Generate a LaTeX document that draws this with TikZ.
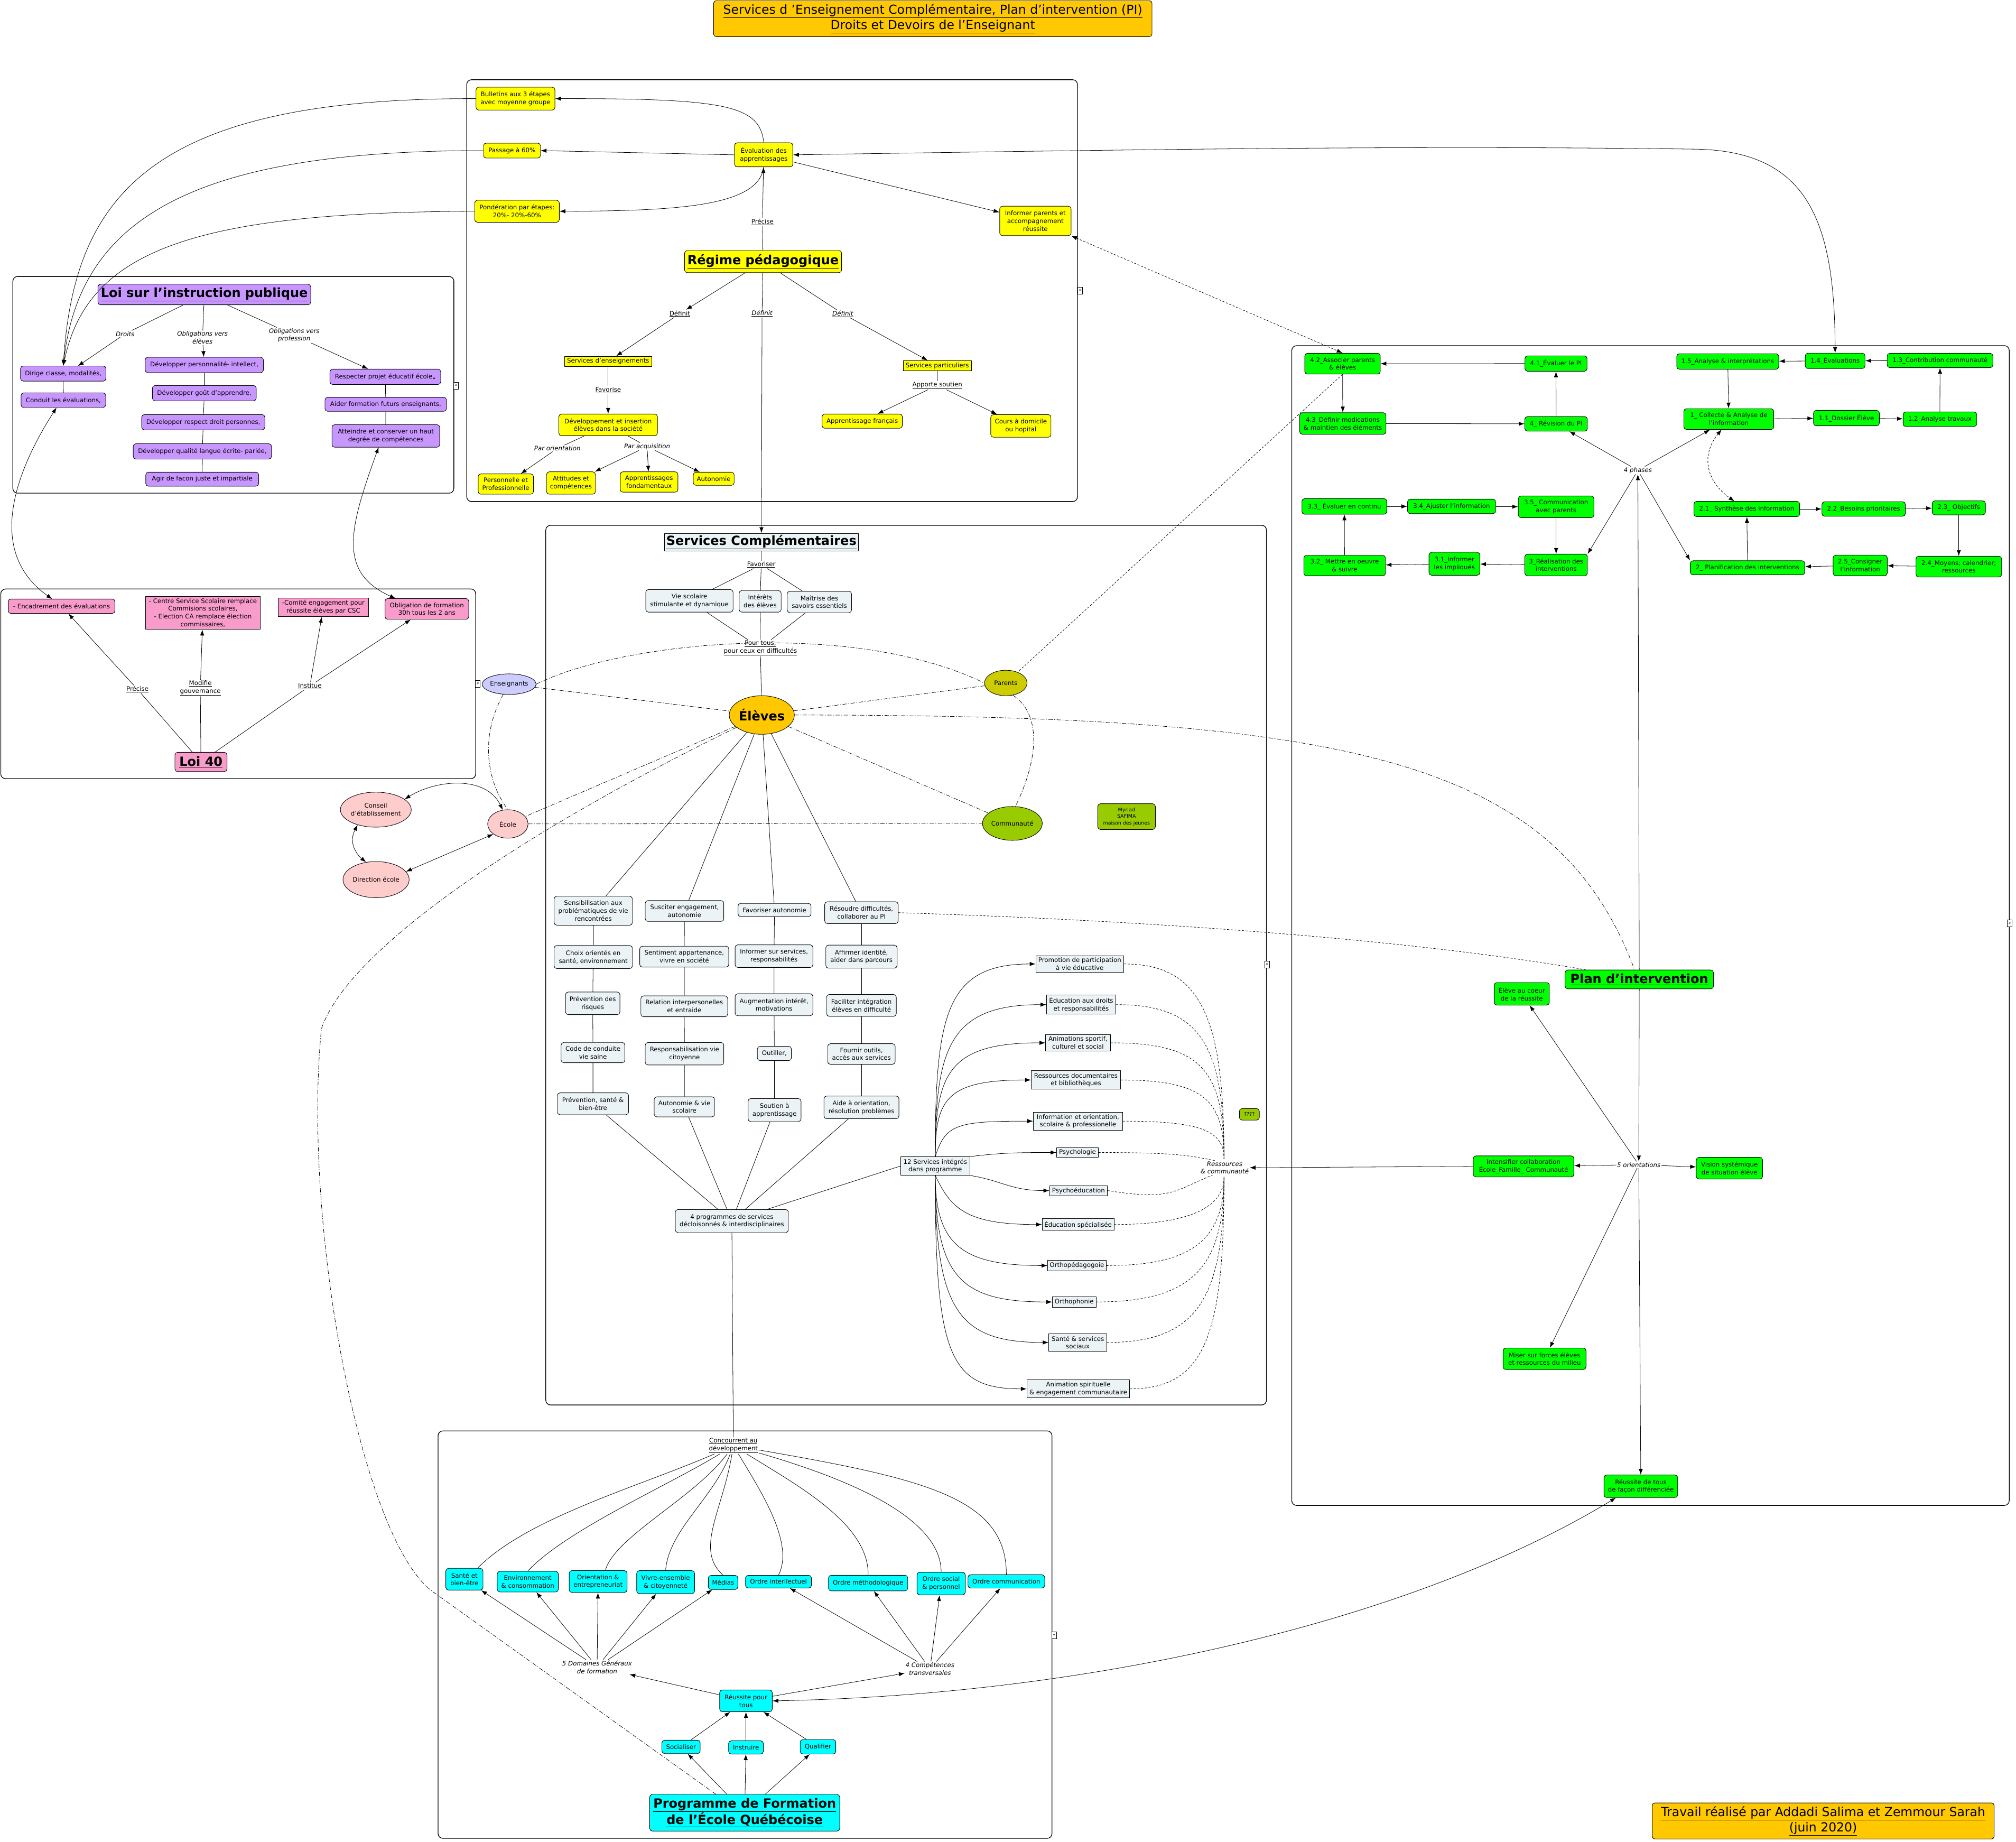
\documentclass[tikz,border=0pt]{standalone}
\usepackage{fontspec}
\setmainfont{DejaVu Sans}
\usetikzlibrary{arrows.meta,shapes.geometric}
\definecolor{cyel}{HTML}{FFFF00}
\definecolor{corg}{HTML}{FFC800}
\definecolor{cpur}{HTML}{C896FF}
\definecolor{cpnk}{HTML}{F99BCB}
\definecolor{clite}{HTML}{EBF3F6}
\definecolor{cgrn}{HTML}{00FF00}
\definecolor{ccya}{HTML}{00FFFF}
\definecolor{cpar}{HTML}{CCCC00}
\definecolor{ccom}{HTML}{99CC00}
\definecolor{cens}{HTML}{CCCCFF}
\definecolor{cecl}{HTML}{FFCCCC}
\newcommand{\fsm}{\fontsize{11.8}{14.8}\selectfont}
\newcommand{\fhd}{\fontsize{24}{29}\selectfont\bfseries}
\newcommand{\ftt}{\fontsize{23.5}{28.5}\selectfont}
\newcommand{\fxs}{\fontsize{9.5}{12.5}\selectfont}
\newcommand{\bx}[7]{\node[#1,minimum width=#5*2.433pt,minimum height=#6*2.433pt] (#2) at (#3,#4) {#7};}
\tikzset{
 base/.style={draw, line width=0.9pt, rounded corners=5pt, align=center, inner sep=2pt, font=\fsm},
 yel/.style={base, fill=cyel},
 yelr/.style={base, sharp corners, fill=cyel},
 pur/.style={base, fill=cpur},
 pnk/.style={base, fill=cpnk},
 pnkr/.style={base, sharp corners, fill=cpnk},
 lite/.style={base, fill=clite},
 liter/.style={base, sharp corners, fill=clite},
 grn/.style={base, fill=cgrn},
 cya/.style={base, fill=ccya},
 ell/.style={draw, line width=0.9pt, ellipse, align=center, inner sep=0pt, font=\fsm},
 lbl/.style={align=center, inner sep=1.5pt, font=\fsm},
 lbli/.style={lbl, font=\fsm\itshape},
 cont/.style={draw, line width=1.3pt, rounded corners=9pt},
 ln/.style={line width=0.8pt},
 arr/.style={ln, -{Latex[length=11pt,width=8pt]}},
 darr/.style={ln, {Latex[length=11pt,width=8pt]}-{Latex[length=11pt,width=8pt]}},
 dd/.style={ln, dash pattern=on 8pt off 3pt on 1.5pt off 3pt},
 dsh/.style={ln, dash pattern=on 4pt off 3pt},
 ico/.style={draw, fill=white, line width=0.6pt, inner sep=0.5pt, font=\fontsize{8}{8}\selectfont, minimum width=9pt, minimum height=13pt}
}
\begin{document}
\begin{tikzpicture}[x=2.433pt,y=-2.433pt]
\fill[white] (0,0) rectangle (1568,1432);
\useasboundingbox (0,0) rectangle (1568,1432);
% containers
\draw[cont] (363,62) rectangle (838,390);
\draw[cont] (10,215) rectangle (353,383.5);
\draw[cont] (0.6,458) rectangle (370,605.5);
\draw[cont] (424.5,408.5) rectangle (985,1092.5);
\draw[cont] (1004.7,268.8) rectangle (1562.7,1170.6);
\draw[cont] (340.7,1112.7) rectangle (818.2,1429.5);
\node[ico] (i1) at (840,226) {«};
\node[ico] (i2) at (354.6,299.8) {«};
\node[ico] (i3) at (371.6,531.6) {«};
\node[ico] (i4) at (985.3,750) {«};
\node[ico] (i5) at (1563,718) {«};
\node[ico] (i6) at (820,1271.4) {«};
% title and footer
\node[base, fill=corg, font=\ftt, minimum width=341*2.433pt, minimum height=28*2.433pt] (title) at (725.5,14.5) {\underline{Services d 'Enseignement Complémentaire, Plan d'intervention (PI)}\\\underline{Droits et Devoirs de l'Enseignant}};
\node[base, fill=corg, font=\ftt, minimum width=266*2.433pt, minimum height=28*2.433pt] (footer) at (1418,1416) {\underline{Travail réalisé par Addadi Salima et Zemmour Sarah}\\\underline{(juin 2020)}};
% Regime
\bx{yel}{bull}{400.9}{76.7}{61.4}{17.8}{Bulletins aux 3 étapes\\avec moyenne groupe}
\bx{yel}{pass}{398.2}{117.1}{44.3}{11.6}{Passage à 60\%}
\bx{yel}{pond}{402.1}{164.3}{65.8}{17.1}{Pondération par étapes:\\20\%- 20\%-60\%}
\bx{yel}{eval}{594}{120.4}{45.3}{18.7}{Évaluation des\\apprentissages}
\bx{yel}{inform}{805.3}{171.8}{55.5}{22.9}{Informer parents et\\accompagnement\\réussite}
\bx{yel,font=\fhd}{regime}{593.5}{203.4}{122.2}{17.2}{\underline{Régime pédagogique}}
\bx{yelr}{sens}{473}{281}{68}{8}{Services d'enseignements}
\bx{yelr}{spart}{729}{284.4}{52.9}{8}{Services particuliers}
\bx{yel}{dev}{473}{330.4}{76.7}{16.8}{Développement et insertion\\élèves dans la société}
\bx{yel}{appf}{670.6}{327.5}{62.5}{11}{Apprentissage français}
\bx{yel}{cours}{794}{331.2}{46.8}{17.6}{Cours à domicile\\ou hopital}
\bx{yel}{perso}{393.4}{376.4}{43}{15.8}{Personnelle et\\Professionnelle}
\bx{yel}{attit}{444.1}{375.6}{38}{17.4}{Attitudes et\\compétences}
\bx{yel}{apprf}{504.8}{374.8}{44.9}{15.8}{Apprentissages\\fondamentaux}
\bx{yel}{auton}{555.1}{372.3}{31.8}{10.2}{Autonomie}
\node[lbl] (precise) at (593,172.6) {\underline{Précise}};
\node[lbl] (def1) at (528.7,243.9) {\underline{Définit}};
\node[lbli] (def2) at (592.7,243.8) {\underline{Définit}};
\node[lbli] (def3) at (655.5,244) {\underline{Définit}};
\node[lbl] (favorise) at (473,303.5) {\underline{Favorise}};
\node[lbl] (apporte) at (729,299.6) {\underline{Apporte soutien}};
\node[lbli] (parori) at (433.5,348.7) {Par orientation};
\node[lbli] (paracq) at (503.3,347.3) {Par acquisition};
% Loi instruction publique
\bx{pur,font=\fhd}{loiip}{158.9}{229}{165.5}{16}{\underline{Loi sur l'instruction publique}}
\bx{pur}{dirige}{49.2}{290.5}{66.4}{11.8}{Dirige classe, modalités,}
\bx{pur}{conduit}{49.3}{311.2}{65.8}{11.4}{Conduit les évaluations,}
\bx{pur}{devpers}{158.9}{283.8}{92}{12}{Développer personnalité- intellect,}
\bx{pur}{devgout}{158.9}{305.7}{80.8}{11.9}{Développer goût d'apprendre,}
\bx{pur}{devresp}{158.1}{328.3}{95.8}{11.9}{Développer respect droit personnes,}
\bx{pur}{devqual}{157.4}{351}{107.6}{11.9}{Développer qualité langue écrite- parlée,}
\bx{pur}{agir}{157.3}{372.6}{87.8}{10.9}{Agir de facon juste et impartiale}
\bx{pur}{respect}{299.7}{293}{86.2}{11.9}{Respecter projet éducatif école,,}
\bx{pur}{aider}{300}{314.4}{94.5}{10.9}{Aider formation futurs enseignants,}
\bx{pur}{atteindre}{300.1}{339}{83.8}{17.5}{Atteindre et conserver un haut\\degrée de compétences}
\node[lbli] (droits) at (97.3,259.6) {Droits};
\node[lbli] (oblel) at (157.5,262.6) {Obligations vers\\élèves};
\node[lbli] (oblprof) at (228.8,260.7) {Obligations vers\\profession};
% Loi 40
\bx{pnk}{encad}{47.9}{471.4}{83}{11.2}{- Encadrement des évaluations}
\bx{pnkr}{centre}{157.8}{476.6}{89}{25.7}{- Centre Service Scolaire remplace\\Commisions scolaires,\\- Election CA remplace élection\\commissaires,}
\bx{pnkr}{comite}{251.5}{472.2}{70.3}{14.6}{-Comité engagement pour\\réussite élèves par CSC}
\bx{pnk}{oblig}{332}{473.5}{65.1}{16.2}{Obligation de formation\\30h tous les 2 ans}
\bx{pnk,font=\fhd}{loi40}{156.3}{592.5}{40.5}{15}{\underline{Loi 40}}
\node[lbl] (precise2) at (106.9,536) {\underline{Précise}};
\node[lbl] (modifie) at (155.8,535) {\underline{Modifie}\\\underline{gouvernance}};
\node[lbl] (institue) at (241,533.4) {\underline{Institue}};
% Services complementaires
\bx{liter,font=\fhd}{servc}{592.2}{421.6}{150.5}{13.8}{\underline{Services Complémentaires}}
\bx{lite}{viesc}{536.2}{467.2}{67.9}{17.6}{Vie scolaire\\stimulante et dynamique}
\bx{lite}{inter}{591.2}{467.6}{32.7}{16.8}{Intérêts\\des élèves}
\bx{lite}{maitr}{637.3}{468.1}{50}{16.7}{Maîtrise des\\savoirs essentiels}
\node[lbl] (favoriser) at (592.1,439.1) {\underline{Favoriser}};
\node[lbl] (pourtous) at (591.4,503.9) {\underline{Pour tous,}\\\underline{pour ceux en difficultés}};
\node[ell, fill=corg, font=\fhd, minimum width=48.4*2.433pt, minimum height=30*2.433pt] (eleves) at (592.5,556) {Élèves};
\node[ell, fill=cpar, minimum width=33.1*2.433pt, minimum height=19.8*2.433pt] (parents) at (782.3,531.1) {Parents};
\node[ell, fill=ccom, minimum width=44.1*2.433pt, minimum height=26.3*2.433pt] (commun) at (787.4,640.3) {Communauté};
\node[ell, fill=cens, minimum width=36*2.433pt, minimum height=16*2.433pt] (ens) at (396,532) {Enseignants};
\node[ell, fill=cecl, minimum width=31.4*2.433pt, minimum height=22.1*2.433pt] (ecole) at (395,640.7) {École};
\node[ell, fill=cecl, minimum width=49.9*2.433pt, minimum height=27.2*2.433pt] (conseil) at (292.3,629.6) {Conseil\\d'établissement};
\node[ell, fill=cecl, minimum width=49*2.433pt, minimum height=28.1*2.433pt] (direction) at (292.5,684) {Direction école};
\node[base, fill=ccom, font=\fxs, minimum width=44.8*2.433pt, minimum height=20*2.433pt] (myriad) at (876.2,635) {Myriad\\SAFIMA\\maison des jeunes};
\node[base, fill=ccom, font=\fxs, minimum width=15.5*2.433pt, minimum height=9*2.433pt] (qqq) at (971.7,866.5) {????};
\bx{lite}{c1a}{461.4}{708.2}{60.9}{22.5}{Sensibilisation aux\\problématiques de vie\\rencontrées}
\bx{lite}{c1b}{461.4}{744.2}{60.9}{17.9}{Choix orientés en\\santé, environnement}
\bx{lite}{c1c}{461}{780.2}{42.3}{17.6}{Prévention des\\risques}
\bx{lite}{c1d}{461.2}{818.5}{49.6}{15.8}{Code de conduite\\vie saine}
\bx{lite}{c1e}{461.2}{858.3}{55.4}{17}{Prévention, santé \&\\bien-être}
\bx{lite}{c2a}{532.4}{708.4}{61.1}{16.2}{Susciter engagement,\\autonomie}
\bx{lite}{c2b}{532.2}{743.9}{69.3}{16.2}{Sentiment appartenance,\\vivre en société}
\bx{lite}{c2c}{532.2}{782.5}{67.5}{16.2}{Relation interpersonelles\\et entraide}
\bx{lite}{c2d}{532.4}{819.4}{61.1}{17.5}{Responsabilisation vie\\citoyenne}
\bx{lite}{c2e}{532.3}{860.7}{47}{15.6}{Autonomie \& vie\\scolaire}
\bx{lite}{c3a}{602.4}{707.6}{56.8}{10.3}{Favoriser autonomie}
\bx{lite}{c3b}{602}{743.5}{60.5}{17.6}{Informer sur services,\\responsabilités}
\bx{lite}{c3c}{602}{781.3}{60.5}{17.1}{Augmentation intérêt,\\motivations}
\bx{lite}{c3d}{602.3}{819.2}{26.5}{11.1}{Outiller,}
\bx{lite}{c3e}{602.4}{863.2}{41.2}{17.9}{Soutien à\\apprentissage}
\bx{lite}{c4a}{670}{709.7}{57.1}{17}{Résoudre difficultés,\\collaborer au PI}
\bx{lite}{c4b}{670}{743.9}{55.4}{17.9}{Affirmer identité,\\aider dans parcours}
\bx{lite}{c4c}{670}{781.8}{54.2}{17}{Faciliter intégration\\élèves en difficulté}
\bx{lite}{c4d}{670}{819.6}{52.5}{16}{Fournir outils,\\accès aux services}
\bx{lite}{c4e}{670}{861.1}{58.3}{17.6}{Aide à orientation,\\résolution problèmes}
\bx{lite}{prog4}{569.2}{949.5}{88}{17.9}{4 programmes de services\\décloisonnés \& interdisciplinaires}
\bx{liter}{s1}{839.8}{749.6}{68.4}{13}{Promotion de participation\\à vie éducative}
\bx{liter}{s2}{840.9}{781.2}{53.7}{14.8}{Éducation aux droits\\et responsabilités}
\bx{liter}{s3}{838.4}{810.9}{50.3}{12.7}{Animations sportif,\\culturel et social}
\bx{liter}{s4}{836.8}{839.8}{69.5}{14.4}{Ressources documentaires\\et bibliothèques}
\bx{liter}{s5}{838.4}{871.8}{69.3}{14.1}{Information et orientation,\\scolaire \& professionelle}
\bx{liter}{s6}{838}{896.2}{32.2}{7.6}{Psychologie}
\bx{liter}{s7}{838.8}{925.8}{45}{7.8}{Psychoéducation}
\bx{liter}{s8}{838.5}{952.2}{55.8}{9}{Éducation spécialisée}
\bx{liter}{s9}{837.6}{984.1}{45.5}{8.3}{Orthopédagogoie}
\bx{liter}{s10}{835.5}{1012.4}{34}{8.1}{Orthophonie}
\bx{liter}{s11}{838.3}{1043.9}{45.1}{13.4}{Santé \& services\\sociaux}
\bx{liter}{s12}{838.7}{1080}{80}{14.1}{Animation spirituelle\\\& engagement communautaire}
\bx{liter}{svc12}{727.4}{906.7}{53.7}{14.3}{12 Services intégrés\\dans programme}
\node[lbli] (ressources) at (952.5,908) {Ressources\\\& communauté};
% Plan d'intervention
\bx{grn}{p42}{1044.2}{282.8}{58.7}{16.2}{4.2\_Associer parents\\\& élèves}
\bx{grn}{p41}{1210.2}{282.7}{48.3}{12}{4.1\_Évaluer le PI}
\bx{grn}{p43}{1044.4}{329.3}{67.1}{16.8}{4.3\_Définir modications\\\& maintien des éléments}
\bx{grn}{p4}{1210.3}{329.6}{48.7}{11.3}{4\_ Révision du PI}
\bx{grn}{p15}{1343.8}{281.1}{79.3}{12.1}{1.5\_Analyse \& interprétations}
\bx{grn}{p14}{1427.3}{280.6}{46.5}{11.9}{1.4\_Évaluations}
\bx{grn}{p13}{1508.9}{280.3}{82.2}{11.2}{1.3\_Contribution communauté}
\bx{grn}{p1}{1344.6}{325.9}{69.9}{16.2}{1\_ Collecte \& Analyse de\\l'information}
\bx{grn}{p11}{1436.1}{325.1}{51.2}{12}{1.1\_Dossier Élève}
\bx{grn}{p12}{1508.8}{326}{57.3}{11.3}{1.2\_Analyse travaux}
\bx{grn}{p33}{1045.6}{393.8}{66}{12.1}{3.3\_ Évaluer en continu}
\bx{grn}{p34}{1129}{393.8}{68.5}{11.3}{3.4\_Ajuster l'information}
\bx{grn}{p35}{1210.3}{394.1}{58.8}{16.8}{3.5\_ Communication\\avec parents}
\bx{grn}{p32}{1045.8}{439.8}{63.5}{15.9}{3.2\_ Mettre en oeuvre\\\& suivre}
\bx{grn}{p31}{1131.2}{438.4}{39.6}{17.8}{3.1\_Informer\\les impliqués}
\bx{grn}{p3}{1210.3}{439.3}{48.7}{16.8}{3\_Réalisation des\\interventions}
\bx{grn}{p21}{1358.6}{395.8}{82.2}{11.9}{2.1\_ Synthèse des information}
\bx{grn}{p22}{1449.5}{395.8}{64.9}{11.2}{2.2\_Besoins prioritaires}
\bx{grn}{p23}{1523.5}{394.9}{41.4}{10.9}{2.3\_ Objectifs}
\bx{grn}{p2}{1359.2}{441.5}{89.1}{10.9}{2\_ Planification des interventions}
\bx{grn}{p25}{1446.8}{439.7}{42.1}{16.1}{2.5\_Consigner\\l'information}
\bx{grn}{p24}{1523.5}{440.6}{66.6}{16.2}{2.4\_Moyens; calendrier;\\ressources}
\node[lbli] (phases4) at (1273.9,365.8) {4 phases};
\bx{grn,font=\fhd}{plan}{1275}{761.6}{115.4}{14.7}{\underline{Plan d'intervention}}
\bx{grn}{coeur}{1183.6}{772.8}{42.9}{17.5}{Élève au coeur\\de la réussite}
\bx{grn}{intens}{1185}{907}{78.3}{16.4}{Intensifier collaboration\\École\_Famille\_ Communauté}
\bx{grn}{vision}{1345.1}{908.4}{51.6}{16.9}{Vision systémique\\de situation élève}
\bx{grn}{miser}{1201.3}{1056.6}{64.5}{16.7}{Miser sur forces élèves\\et ressources du milieu}
\bx{grn}{reusst}{1276.2}{1155.7}{57.3}{17.5}{Réussite de tous\\de façon différenciée}
\node[lbli] (orient5) at (1274.6,905.7) {5 orientations};
% Programme de formation
\bx{cya}{sante}{361.2}{1228}{28.9}{16.9}{Santé et\\bien-être}
\bx{cya}{envir}{410.5}{1229.9}{47.5}{16.1}{Environnement\\\& consommation}
\bx{cya}{orient}{465.2}{1229.8}{45}{17}{Orientation \&\\entrepreneuriat}
\bx{cya}{vivre}{517.7}{1230.3}{45}{17.9}{Vivre-ensemble\\\& citoyenneté}
\bx{cya}{medias}{562.4}{1230.5}{23}{10.9}{Médias}
\bx{cya}{ointel}{605.5}{1229.9}{51.3}{9.8}{Ordre interllectuel}
\bx{cya}{ometh}{675.2}{1231}{61.6}{12.1}{Ordre méthodologique}
\bx{cya}{osoc}{732}{1231.4}{37.5}{17.6}{Ordre social\\\& personnel}
\bx{cya}{ocomm}{782.7}{1229.7}{59.7}{10.3}{Ordre communication}
\bx{cya}{reussp}{580.2}{1322.6}{40.9}{16.9}{Réussite pour\\tous}
\bx{cya}{social}{529.7}{1358.4}{29.8}{10.4}{Socialiser}
\bx{cya}{instr}{580.2}{1358.8}{27}{10.3}{Instruire}
\bx{cya}{qualif}{636.2}{1358.3}{27.7}{11.2}{Qualifier}
\bx{cya,font=\fhd}{prog}{579.2}{1409.6}{147.8}{28.5}{\underline{Programme de Formation}\\\underline{de l'École Québécoise}}
\node[lbl] (concour) at (570.4,1124.1) {\underline{Concourrent au}\\\underline{développement}};
\node[lbli] (dom5) at (464.4,1296.3) {5 Domaines Généraux\\de formation};
\node[lbli] (comp4) at (723.3,1297.7) {4 Compétences\\transversales};
% coordinates for free ends
\coordinate (dirA) at (60.6,284.6);
\coordinate (condA) at (44,316.9);
\coordinate (encA) at (40.6,465.8);
\coordinate (attA) at (294.5,347.7);
\coordinate (oblA) at (307.7,465.4);
\coordinate (rtop) at (952,901);
\coordinate (rbot) at (952,915.3);
\coordinate (rleft) at (945,902.5);
\coordinate (rbl) at (943,913.8);
\coordinate (planA) at (1271.4,754.3);
\coordinate (progA) at (557,1395.4);
\coordinate (bendA) at (250,800);
\coordinate (bendB) at (337,1238);
\coordinate (d1) at (1339,334);
\coordinate (d2) at (1349,389.8);
% ---- edges: Regime
\draw[arr] (eval.north) .. controls (591,82) and (565,76.5) .. (bull.east);
\draw[arr] (eval.west) -- (pass.east);
\draw[arr] (eval.south) .. controls (590,160) and (530,164) .. (pond.east);
\draw[arr] (eval) -- (inform);
\draw[ln] (regime) -- (precise); \draw[arr] (precise) -- (eval);
\draw[arr] (regime) -- (def1); \draw[arr] (def1) -- (sens);
\draw[ln] (regime) -- (def2); \draw[arr] (def2) -- (servc);
\draw[ln] (regime) -- (def3); \draw[arr] (def3) -- (spart);
\draw[ln] (sens) -- (favorise); \draw[arr] (favorise) -- (dev);
\draw[ln] (spart) -- (apporte); \draw[arr] (apporte) -- (appf); \draw[arr] (apporte) -- (cours);
\draw[ln] (dev) -- (parori); \draw[arr] (parori) -- (perso);
\draw[ln] (dev) -- (paracq); \draw[arr] (paracq) -- (attit); \draw[arr] (paracq) -- (apprf); \draw[arr] (paracq) -- (auton);
\draw[arr] (bull.west) .. controls (120,76) and (58,150) .. (dirige.north);
\draw[arr] (pass.west) .. controls (150,117) and (62,170) .. (dirige.north);
\draw[arr] (pond.west) .. controls (150,165) and (68,195) .. (dirige.north);
\draw[darr] (eval.east) .. controls (900,116) and (1100,113) .. (1320,116) .. controls (1405,118) and (1427,170) .. (p14.north);
\draw[dsh,darr] (inform.south east) -- (p42.north);
\draw[dsh] (p42.south) -- (parents);
% Loi IP
\draw[ln] (loiip) -- (droits); \draw[arr] (droits) -- (dirA);
\draw[ln] (loiip) -- (oblel); \draw[arr] (oblel) -- (devpers);
\draw[ln] (loiip) -- (oblprof); \draw[arr] (oblprof) -- (respect);
\draw[ln] (dirige) -- (conduit);
\draw[ln] (devpers) -- (devgout) -- (devresp) -- (devqual) -- (agir);
\draw[ln] (respect) -- (aider) -- (atteindre);
\draw[darr] (condA) .. controls (10,370) and (-10,430) .. (encA);
\draw[darr] (attA) .. controls (272,410) and (262,445) .. (oblA);
% Loi 40
\draw[ln] (loi40) -- (precise2); \draw[arr] (precise2) -- (encad);
\draw[ln] (loi40) -- (modifie); \draw[arr] (modifie) -- (centre);
\draw[ln] (loi40) -- (institue); \draw[arr] (institue) -- (comite); \draw[arr] (institue) -- (oblig);
% Services
\draw[ln] (servc) -- (favoriser);
\draw[ln] (favoriser) -- (viesc); \draw[ln] (favoriser) -- (inter); \draw[ln] (favoriser) -- (maitr);
\draw[ln] (viesc) -- (pourtous); \draw[ln] (inter) -- (pourtous); \draw[ln] (maitr) -- (pourtous);
\draw[ln] (pourtous) -- (eleves);
\draw[ln] (eleves) -- (c1a); \draw[ln] (eleves) -- (c2a); \draw[ln] (eleves) -- (c3a); \draw[ln] (eleves) -- (c4a);
\draw[ln] (c1a) -- (c1b) -- (c1c) -- (c1d) -- (c1e);
\draw[ln] (c2a) -- (c2b) -- (c2c) -- (c2d) -- (c2e);
\draw[ln] (c3a) -- (c3b) -- (c3c) -- (c3d) -- (c3e);
\draw[ln] (c4a) -- (c4b) -- (c4c) -- (c4d) -- (c4e);
\draw[ln] (c1e) -- (prog4); \draw[ln] (c2e) -- (prog4); \draw[ln] (c3e) -- (prog4); \draw[ln] (c4e) -- (prog4);
\draw[ln] (svc12.west) -- ([xshift=66.9pt]prog4.north);
\draw[ln] (prog4) -- (concour);
\draw[arr] (svc12.north) .. controls +(0,-110) and +(-70,0) .. (s1.west);
\draw[arr] (svc12.north) .. controls +(0,-85) and +(-75,0) .. (s2.west);
\draw[arr] (svc12.north) .. controls +(0,-65) and +(-75,0) .. (s3.west);
\draw[arr] (svc12.north) .. controls +(0,-45) and +(-65,0) .. (s4.west);
\draw[arr] (svc12.north) .. controls +(8,-25) and +(-60,0) .. (s5.west);
\draw[arr] (svc12.north east) .. controls +(25,-3) and +(-30,0) .. (s6.west);
\draw[arr] (svc12.south east) .. controls +(25,4) and +(-30,0) .. (s7.west);
\draw[arr] (svc12.south) .. controls +(12,25) and +(-60,0) .. (s8.west);
\draw[arr] (svc12.south) .. controls +(0,55) and +(-65,0) .. (s9.west);
\draw[arr] (svc12.south) .. controls +(0,80) and +(-70,0) .. (s10.west);
\draw[arr] (svc12.south) .. controls +(0,105) and +(-70,0) .. (s11.west);
\draw[arr] (svc12.south) .. controls +(0,140) and +(-60,0) .. (s12.west);
\draw[dsh] (s1.east) .. controls +(60,0) and +(0,-110) .. (rtop);
\draw[dsh] (s2.east) .. controls +(65,0) and +(0,-90) .. (rtop);
\draw[dsh] (s3.east) .. controls +(70,0) and +(0,-70) .. (rtop);
\draw[dsh] (s4.east) .. controls +(65,0) and +(0,-45) .. (rtop);
\draw[dsh] (s5.east) .. controls +(60,0) and +(0,-22) .. (rtop);
\draw[dsh] (s6.east) .. controls +(60,0) and +(-20,-4) .. (rleft);
\draw[dsh] (s7.east) .. controls +(50,8) and +(-30,12) .. (rbl);
\draw[dsh] (s8.east) .. controls +(55,0) and +(0,25) .. (rbot);
\draw[dsh] (s9.east) .. controls +(65,0) and +(0,50) .. (rbot);
\draw[dsh] (s10.east) .. controls +(75,0) and +(0,70) .. (rbot);
\draw[dsh] (s11.east) .. controls +(70,0) and +(0,95) .. (rbot);
\draw[dsh] (s12.east) .. controls +(60,0) and +(0,120) .. (rbot);
\draw[arr] (intens.west) -- (ressources.east);
% Eleves network
\draw[dd] (ens) -- (eleves);
\draw[dd] (ens.east) .. controls (480,500) and (660,480) .. (parents.west);
\draw[dd] (parents) -- (eleves);
\draw[dd] (eleves) -- (commun);
\draw[dd] (parents.-60) .. controls (810,555) and (808,590) .. (commun.80);
\draw[dd] (ecole) -- (commun);
\draw[dd] (eleves) -- (ecole);
\draw[dd] (ens.240) .. controls (372,575) and (380,610) .. (ecole.north);
\draw[dd] (eleves) .. controls (400,650) and (270,740) .. (bendA) .. controls (235,950) and (280,1197) .. (bendB) -- (progA);
\draw[dd] (eleves.east) .. controls (1050,556) and (1210,590) .. (planA);
\draw[darr] (conseil.20) .. controls (340,606) and (378,603) .. (ecole.110);
\draw[darr] (conseil.-140) .. controls (271,655) and (277,664) .. (direction.120);
\draw[darr] (direction.15) -- (ecole.-145);
\draw[dsh] (c4a.east) .. controls (900,716) and (1100,731) .. ([xshift=39pt]plan.north west);
% Plan
\draw[arr] (p41) -- (p42); \draw[arr] (p42) -- (p43); \draw[arr] (p43) -- (p4); \draw[arr] (p4) -- (p41);
\draw[arr] (p13) -- (p14); \draw[arr] (p14) -- (p15); \draw[arr] (p15) -- (p1); \draw[arr] (p1) -- (p11); \draw[arr] (p11) -- (p12); \draw[arr] (p12) -- (p13);
\draw[arr] (p33) -- (p34); \draw[arr] (p34) -- (p35); \draw[arr] (p35) -- (p3); \draw[arr] (p3) -- (p31); \draw[arr] (p31) -- (p32); \draw[arr] (p32) -- (p33);
\draw[arr] (p21) -- (p22); \draw[arr] (p22) -- (p23); \draw[arr] (p23) -- (p24); \draw[arr] (p24) -- (p25); \draw[arr] (p25) -- (p2); \draw[arr] (p2) -- (p21);
\draw[arr] (phases4) -- (p4); \draw[arr] (phases4) -- (p1); \draw[arr] (phases4) -- (p3.north east); \draw[arr] (phases4) -- (p2.north west);
\draw[dsh,darr] (d1) .. controls (1322,355) and (1328,375) .. (d2);
\draw[arr] (plan) -- (phases4);
\draw[arr] (plan) -- (orient5);
\draw[arr] (orient5) -- (coeur); \draw[arr] (orient5) -- (intens); \draw[arr] (orient5) -- (vision); \draw[arr] (orient5) -- (miser); \draw[arr] (orient5) -- (reusst);
\draw[darr] ([xshift=23pt]reusst.south west) .. controls (1100,1260) and (850,1318) .. (reussp.east);
% Programme
\draw[arr] (prog) -- (social); \draw[arr] (prog) -- (instr); \draw[arr] (prog) -- (qualif);
\draw[arr] (social) -- (reussp); \draw[arr] (instr) -- (reussp); \draw[arr] (qualif) -- (reussp);
\draw[arr] (reussp) -- (dom5); \draw[arr] (reussp) -- (comp4);
\draw[arr] (dom5) -- (sante); \draw[arr] (dom5) -- (envir); \draw[arr] (dom5) -- (orient); \draw[arr] (dom5) -- (vivre); \draw[arr] (dom5) -- (medias);
\draw[arr] (comp4) -- (ointel); \draw[arr] (comp4) -- (ometh); \draw[arr] (comp4) -- (osoc); \draw[arr] (comp4) -- (ocomm);
\draw[ln] (concour) .. controls (500,1155) and (410,1180) .. (sante.40);
\draw[ln] (concour) .. controls (520,1155) and (440,1190) .. (envir.north);
\draw[ln] (concour) .. controls (540,1165) and (478,1195) .. (orient.57);
\draw[ln] (concour) .. controls (555,1165) and (520,1190) .. (vivre.north);
\draw[ln] (concour) .. controls (562,1175) and (540,1205) .. (medias.north);
\draw[ln] (concour) .. controls (592,1160) and (618,1200) .. (ointel.north);
\draw[ln] (concour) .. controls (620,1155) and (676,1185) .. (ometh.north);
\draw[ln] (concour) .. controls (660,1150) and (732,1180) .. (osoc.north);
\draw[ln] (concour) .. controls (720,1150) and (783,1165) .. (ocomm.north);
\end{tikzpicture}
\end{document}
